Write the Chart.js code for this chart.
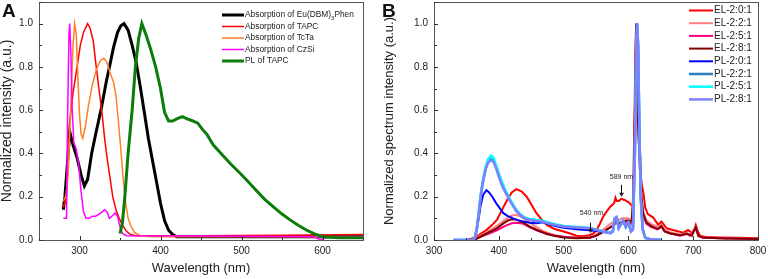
<!DOCTYPE html>
<html>
<head>
<meta charset="utf-8">
<script src="https://cdn.jsdelivr.net/npm/chart.js@4"></script>
<style>
	body { margin: 0; background: #fff; }
	#wrap { position: relative; width: 768px; height: 279px; }
	canvas { position: absolute; top: 0; }
	#chartA { left: 0; }
	#chartB { left: 380px; }
	.panel { position: absolute; top: 0; font: bold 19px "Liberation Sans", Arial, sans-serif; color: #111; }
</style>
</head>
<body>
<div id="wrap">
	<canvas id="chartA" width="380" height="279"></canvas>
	<canvas id="chartB" width="388" height="279"></canvas>
	<div class="panel" style="left:2px">A</div>
	<div class="panel" style="left:382px">B</div>
</div>
<script>
// ---- panel A: absorption / PL spectra ----
var wlEu = [280, 282, 285, 288, 292, 297, 302, 306, 310, 315, 320, 327, 333, 337, 342, 347, 351, 355, 360, 365, 370, 375, 380, 385, 390, 395, 400, 405, 410, 415, 420, 500, 650];
var absEu = [0.14, 0.2, 0.35, 0.5, 0.44, 0.38, 0.3, 0.25, 0.28, 0.4, 0.49, 0.61, 0.73, 0.8, 0.89, 0.96, 0.99, 1.0, 0.97, 0.9, 0.82, 0.71, 0.59, 0.47, 0.37, 0.27, 0.17, 0.09, 0.045, 0.025, 0.015, 0.015, 0.015];

var wlTapc = [280, 284, 286, 288, 292, 297, 301, 305, 310, 313, 317, 320, 324, 328, 331, 334, 338, 341, 345, 349, 353, 358, 363, 370, 450, 550, 650];
var absTapc = [0.15, 0.2, 0.4, 0.55, 0.68, 0.8, 0.9, 0.96, 1.0, 0.98, 0.92, 0.82, 0.7, 0.58, 0.47, 0.38, 0.28, 0.2, 0.14, 0.1, 0.07, 0.04, 0.025, 0.02, 0.02, 0.022, 0.025];

var wlTcta = [280, 283, 286, 289, 292, 294, 296, 298, 300, 302, 304, 307, 311, 316, 321, 326, 330, 334, 338, 342, 345, 348, 351, 354, 357, 360, 364, 368, 375, 390, 650];
var absTcta = [0.18, 0.2, 0.3, 0.6, 0.9, 1.0, 0.95, 0.75, 0.58, 0.49, 0.47, 0.52, 0.62, 0.72, 0.79, 0.83, 0.84, 0.82, 0.77, 0.73, 0.67, 0.55, 0.42, 0.28, 0.17, 0.1, 0.06, 0.035, 0.02, 0.015, 0.015];

var wlCzsi = [280, 284, 285, 287, 288, 289.5, 291, 293, 296, 299, 302, 305, 308, 312, 316, 320, 324, 328, 331, 334, 337, 340, 344, 347, 350, 353, 358, 450, 590, 598, 606, 650];
var absCzsi = [0.1, 0.1, 0.5, 0.95, 1.0, 0.85, 0.6, 0.45, 0.42, 0.35, 0.22, 0.13, 0.1, 0.1, 0.11, 0.11, 0.12, 0.13, 0.14, 0.13, 0.1, 0.11, 0.125, 0.11, 0.06, 0.03, 0.02, 0.018, 0.015, 0.0, 0.015, 0.015];

var wlPl = [350, 353, 356, 360, 365, 369, 373, 377, 382, 388, 394, 400, 405, 410, 415, 420, 427, 433, 440, 446, 452, 457, 465, 477, 487, 498, 508, 518, 528, 539, 550, 560, 570, 580, 590, 600, 620, 650];
var plTapc = [0.03, 0.08, 0.2, 0.4, 0.6, 0.8, 0.93, 1.0, 0.95, 0.88, 0.8, 0.7, 0.59, 0.55, 0.55, 0.56, 0.57, 0.56, 0.55, 0.54, 0.51, 0.49, 0.44, 0.39, 0.35, 0.31, 0.27, 0.23, 0.19, 0.154, 0.12, 0.093, 0.068, 0.046, 0.028, 0.015, 0.01, 0.01];

// ---- panel B: EL / PL spectra ----
var wlElA = [350, 360, 370, 381, 390, 397, 405, 412, 420, 427, 435, 443, 450, 458, 466, 474, 485, 500, 510, 520, 530, 540, 546, 551, 556, 561, 566, 572, 578, 580, 582, 585, 589, 594, 600, 605, 607, 609, 611, 612, 613, 615, 617, 619, 621, 623, 626, 630, 638, 646, 651, 655, 659, 670, 685, 692, 697, 701, 704, 707, 711, 720, 740, 770, 800];
var elA = [0, 0.008, 0.025, 0.046, 0.07, 0.093, 0.14, 0.18, 0.22, 0.235, 0.225, 0.2, 0.165, 0.124, 0.095, 0.07, 0.052, 0.039, 0.03, 0.02, 0.017, 0.022, 0.03, 0.046, 0.075, 0.108, 0.13, 0.154, 0.17, 0.195, 0.18, 0.18, 0.19, 0.185, 0.175, 0.16, 0.17, 0.5, 0.9, 1.0, 0.85, 0.6, 0.47, 0.3, 0.25, 0.22, 0.15, 0.12, 0.105, 0.07, 0.085, 0.07, 0.054, 0.045, 0.034, 0.046, 0.034, 0.04, 0.069, 0.04, 0.018, 0.014, 0.012, 0.01, 0.008];

var wlElB = [350, 360, 381, 397, 410, 418, 425, 433, 443, 455, 468, 480, 500, 520, 540, 550, 560, 570, 578, 581, 584, 590, 596, 600, 605, 608, 610, 612, 613, 615, 617, 620, 623, 628, 635, 645, 651, 656, 665, 680, 690, 695, 704, 708, 715, 740, 800];
var elB = [0, 0.003, 0.035, 0.065, 0.095, 0.11, 0.116, 0.11, 0.09, 0.065, 0.042, 0.028, 0.015, 0.01, 0.012, 0.025, 0.045, 0.07, 0.085, 0.105, 0.09, 0.1, 0.1, 0.1, 0.09, 0.25, 0.6, 0.95, 0.8, 0.6, 0.4, 0.2, 0.13, 0.09, 0.075, 0.06, 0.07, 0.045, 0.035, 0.025, 0.032, 0.025, 0.06, 0.02, 0.012, 0.008, 0.005];

var wlElC = [350, 360, 381, 397, 410, 420, 428, 438, 448, 460, 474, 487, 500, 520, 540, 550, 560, 570, 578, 581, 584, 590, 596, 600, 605, 608, 610, 612, 613, 615, 617, 620, 623, 628, 635, 645, 651, 656, 665, 680, 690, 695, 704, 708, 715, 800];
var elC = [0, 0.002, 0.025, 0.045, 0.065, 0.077, 0.08, 0.075, 0.058, 0.042, 0.03, 0.02, 0.015, 0.01, 0.01, 0.018, 0.035, 0.055, 0.068, 0.085, 0.07, 0.08, 0.082, 0.08, 0.075, 0.2, 0.55, 0.9, 0.75, 0.55, 0.38, 0.18, 0.11, 0.075, 0.06, 0.05, 0.06, 0.04, 0.03, 0.02, 0.028, 0.02, 0.055, 0.018, 0.01, 0.004];

var wlElD = [350, 365, 381, 397, 407, 414, 420, 428, 438, 448, 460, 474, 487, 500, 520, 540, 550, 560, 570, 578, 581, 584, 590, 596, 600, 605, 608, 610, 612, 613, 614.5, 616, 618, 620, 623, 628, 635, 645, 651, 656, 665, 680, 690, 694, 698, 704, 708, 715, 740, 800];
var elD = [0, 0.005, 0.03, 0.054, 0.077, 0.09, 0.096, 0.093, 0.08, 0.062, 0.045, 0.028, 0.018, 0.012, 0.008, 0.01, 0.02, 0.035, 0.055, 0.07, 0.09, 0.075, 0.085, 0.09, 0.09, 0.085, 0.2, 0.6, 1.0, 0.7, 0.6, 0.45, 0.4, 0.2, 0.12, 0.08, 0.065, 0.05, 0.065, 0.04, 0.03, 0.022, 0.03, 0.025, 0.02, 0.06, 0.02, 0.012, 0.008, 0.005];

var wlPlA = [360, 363, 366, 369, 372, 376, 381, 385, 390, 396, 402, 407, 414, 422, 430, 438, 448, 458, 468, 475, 487, 500, 520, 540, 560, 572, 576, 579, 582, 585, 588, 592, 596, 600, 604, 607, 610, 612, 613.5, 615, 617, 619, 622, 626, 635, 650];
var plA = [0, 0.01, 0.05, 0.1, 0.16, 0.21, 0.23, 0.22, 0.2, 0.17, 0.145, 0.124, 0.11, 0.1, 0.092, 0.085, 0.08, 0.077, 0.082, 0.075, 0.065, 0.056, 0.05, 0.045, 0.038, 0.032, 0.04, 0.1, 0.105, 0.055, 0.07, 0.09, 0.06, 0.08, 0.04, 0.05, 0.4, 0.85, 1.0, 0.9, 0.5, 0.2, 0.05, 0.01, 0.003, 0];

var wlPlB = [330, 360, 363, 366, 369, 372, 375, 379, 383, 388, 392, 396, 401, 406, 411, 417, 422, 427, 433, 440, 448, 458, 468, 475, 487, 500, 520, 540, 560, 572, 576, 579, 582, 585, 588, 592, 596, 600, 604, 607, 610, 612, 613.5, 615, 617, 619, 622, 626, 635, 650];
var plB = [0, 0, 0.01, 0.05, 0.12, 0.2, 0.26, 0.32, 0.36, 0.375, 0.365, 0.335, 0.29, 0.25, 0.22, 0.185, 0.16, 0.135, 0.116, 0.1, 0.093, 0.088, 0.085, 0.078, 0.07, 0.062, 0.058, 0.054, 0.04, 0.032, 0.04, 0.1, 0.105, 0.055, 0.07, 0.09, 0.06, 0.08, 0.04, 0.05, 0.4, 0.85, 1.0, 0.9, 0.5, 0.2, 0.05, 0.01, 0.003, 0];
var plC = [0, 0, 0.01, 0.05, 0.13, 0.21, 0.27, 0.33, 0.37, 0.39, 0.38, 0.345, 0.3, 0.26, 0.225, 0.19, 0.165, 0.14, 0.12, 0.104, 0.097, 0.092, 0.089, 0.082, 0.073, 0.065, 0.06, 0.056, 0.042, 0.033, 0.04, 0.1, 0.105, 0.055, 0.07, 0.09, 0.06, 0.08, 0.04, 0.05, 0.4, 0.85, 1.0, 0.9, 0.5, 0.2, 0.05, 0.01, 0.003, 0];
var plD = [0, 0, 0.01, 0.05, 0.12, 0.2, 0.26, 0.32, 0.355, 0.37, 0.36, 0.33, 0.285, 0.245, 0.215, 0.182, 0.158, 0.133, 0.115, 0.1, 0.093, 0.088, 0.085, 0.078, 0.07, 0.062, 0.058, 0.054, 0.04, 0.032, 0.04, 0.1, 0.105, 0.055, 0.07, 0.09, 0.06, 0.08, 0.04, 0.05, 0.4, 0.85, 1.0, 0.9, 0.5, 0.2, 0.05, 0.01, 0.003, 0];

var fontFamily = '"Liberation Sans", Arial, sans-serif';
var textColor = '#222';

function toPoints(xs, ys) {
	return xs.map(function(x, i) { return {x: x, y: ys[i]}; });
}

function line(label, xs, ys, color, width) {
	return {
		label: label,
		data: toPoints(xs, ys),
		borderColor: color,
		backgroundColor: color,
		borderWidth: width,
		showLine: true,
		pointRadius: 0,
		tension: 0,
	};
}

// boxed plot area like the origin graph
const chartAreaBorder = {
	id: 'chartAreaBorder',
	afterDatasetsDraw(chart, args, options) {
		const {ctx, chartArea: {left, top, width, height}} = chart;
		ctx.save();
		ctx.strokeStyle = options.borderColor;
		ctx.lineWidth = options.borderWidth;
		ctx.strokeRect(left + 0.5, top + 0.5, width, height);
		ctx.restore();
	}
};

// tick marks pointing into the plot
const innerTicks = {
	id: 'innerTicks',
	afterDatasetsDraw(chart, args, options) {
		const {ctx, chartArea: {left, bottom}, scales: {x, y}} = chart;
		ctx.save();
		ctx.strokeStyle = options.color;
		ctx.lineWidth = 1;
		ctx.beginPath();
		for (var v = x.min; v <= x.max + 1e-6; v += options.xMinor) {
			var px = Math.round(x.getPixelForValue(v)) + 0.5;
			var len = (Math.round(v) % options.xMajor === 0) ? 4 : 2;
			ctx.moveTo(px, bottom);
			ctx.lineTo(px, bottom - len);
		}
		for (var k = 0; k <= Math.round(y.max * 10); k++) {
			var py = Math.round(y.getPixelForValue(k / 10)) + 0.5;
			var len2 = (k % 2 === 0) ? 4 : 3;
			ctx.moveTo(left, py);
			ctx.lineTo(left + len2, py);
		}
		ctx.stroke();
		ctx.restore();
	}
};

// legend drawn inside the plot, lines left of labels; "_3" gives a subscript
const insideLegend = {
	id: 'insideLegend',
	afterDraw(chart, args, options) {
		const ctx = chart.ctx;
		ctx.save();
		ctx.textBaseline = 'middle';
		ctx.textAlign = 'left';
		chart.data.datasets.forEach(function(ds, i) {
			var yy = options.y + i * options.rowHeight;
			ctx.strokeStyle = ds.borderColor;
			ctx.lineWidth = ds.borderWidth;
			ctx.beginPath();
			ctx.moveTo(options.x1, yy);
			ctx.lineTo(options.x2, yy);
			ctx.stroke();
			ctx.fillStyle = textColor;
			var tx = options.x2 + 1;
			ds.label.split(/_(\d)/).forEach(function(part, j) {
				if (j % 2 === 1) {
					ctx.font = (options.size * 0.7) + 'px ' + fontFamily;
					ctx.fillText(part, tx, yy + 3);
				} else {
					ctx.font = options.size + 'px ' + fontFamily;
					ctx.fillText(part, tx, yy);
				}
				tx += ctx.measureText(part).width;
			});
		});
		ctx.restore();
	}
};

// "589 nm" / "540 nm" arrows in panel B
const arrowNotes = {
	id: 'arrowNotes',
	afterDraw(chart, args, options) {
		const {ctx, scales: {x, y}} = chart;
		ctx.save();
		ctx.font = '7px ' + fontFamily;
		ctx.textAlign = 'center';
		ctx.textBaseline = 'middle';
		ctx.fillStyle = textColor;
		ctx.strokeStyle = '#111';
		ctx.lineWidth = 1;
		options.notes.forEach(function(n) {
			var px = Math.round(x.getPixelForValue(n.at)) + 0.5;
			var yText = y.getPixelForValue(n.textY);
			var y0 = y.getPixelForValue(n.from), y1 = y.getPixelForValue(n.to);
			ctx.fillText(n.at + ' nm', px + n.dx, yText);
			ctx.beginPath();
			ctx.moveTo(px, y0);
			ctx.lineTo(px, y1 - 3);
			ctx.stroke();
			ctx.beginPath();
			ctx.moveTo(px - 2.5, y1 - 4);
			ctx.lineTo(px + 2.5, y1 - 4);
			ctx.lineTo(px, y1);
			ctx.closePath();
			ctx.fill();
		});
		ctx.restore();
	}
};

function makeOptions(cfg) {
	return {
		responsive: false,
		animation: false,
		layout: {padding: {top: 2, right: cfg.padRight, left: 0, bottom: 0}},
		scales: {
			x: {
				type: 'linear',
				min: cfg.xMin, max: cfg.xMax,
				afterFit: function(scale) {
					scale.height = 39;
					scale.paddingLeft = 0;
					scale.paddingRight = 0;
				},
				grid: {display: false, drawTicks: false},
				border: {display: false},
				ticks: {
					stepSize: 50,
					autoSkip: false,
					maxRotation: 0,
					padding: 5,
					color: textColor,
					font: {family: fontFamily, size: 10},
					callback: function(v) { return (Math.round(v) % 100 === 0) ? v : ''; },
				},
				title: {
					display: true,
					text: 'Wavelength (nm)',
					color: textColor,
					font: {family: fontFamily, size: 13, lineHeight: 1},
					padding: {top: 0, bottom: 4},
				},
			},
			y: {
				min: 0, max: 1.1,
				afterFit: function(scale) {
					scale.width = cfg.yWidth;
					scale.paddingTop = 0;
					scale.paddingBottom = 0;
				},
				grid: {display: false, drawTicks: false},
				border: {display: false},
				ticks: {
					stepSize: 0.1,
					autoSkip: false,
					padding: 6,
					color: textColor,
					font: {family: fontFamily, size: 10},
					callback: function(v) {
						var k = Math.round(v * 10);
						return (k % 2 === 0 && k <= 10) ? (k / 10).toFixed(1) : '';
					},
				},
				title: {
					display: true,
					text: cfg.yTitle,
					color: textColor,
					font: {family: fontFamily, size: cfg.yTitleSize, lineHeight: 1},
					padding: {top: cfg.yTitlePad, bottom: 0},
				},
			},
		},
		plugins: {
			legend: {display: false},
			tooltip: {enabled: false},
			chartAreaBorder: {borderColor: '#555', borderWidth: 1},
			innerTicks: {color: '#333', xMinor: 50, xMajor: 100},
			insideLegend: cfg.legend,
			arrowNotes: cfg.notes || {notes: []},
		},
	};
}

function withOrder(datasets) {
	// later datasets painted on top
	datasets.forEach(function(ds, i) { ds.order = datasets.length - i; });
	return datasets;
}

var dataA = withOrder([
	line('Absorption of Eu(DBM)_3Phen', wlEu, absEu, '#000000', 3),
	line('Absorption of TAPC', wlTapc, absTapc, '#ff0000', 1.5),
	line('Absorption of TcTa', wlTcta, absTcta, '#ff7f27', 1.5),
	line('Absorption of CzSi', wlCzsi, absCzsi, '#ff00ff', 1.5),
	line('PL of TAPC', wlPl, plTapc, '#0a7d0a', 3),
]);

var dataB = withOrder([
	line('EL-2:0:1', wlElA, elA, '#ff0000', 2),
	line('EL-2:2:1', wlElB, elB, '#ff8080', 2),
	line('EL-2:5:1', wlElC, elC, '#ff0080', 2),
	line('EL-2:8:1', wlElD, elD, '#800000', 2),
	line('PL-2:0:1', wlPlA, plA, '#0000ff', 2),
	line('PL-2:2:1', wlPlB, plB, '#2a7fc0', 2.5),
	line('PL-2:5:1', wlPlB, plC, '#00ffff', 2.5),
	line('PL-2:8:1', wlPlB, plD, '#7f7fff', 2.5),
]);

var plugins = [chartAreaBorder, innerTicks, insideLegend, arrowNotes];

new Chart(document.getElementById('chartA'), {
	type: 'scatter',
	data: {datasets: dataA},
	options: makeOptions({
		xMin: 250, xMax: 650, padRight: 17, yWidth: 39,
		yTitle: 'Normalized intensity (a.u.)', yTitleSize: 14, yTitlePad: 0,
		legend: {x1: 222, x2: 244, y: 15, rowHeight: 11.5, size: 8.4},
	}),
	plugins: plugins,
});

new Chart(document.getElementById('chartB'), {
	type: 'scatter',
	data: {datasets: dataB},
	options: makeOptions({
		xMin: 300, xMax: 800, padRight: 10, yWidth: 54,
		yTitle: 'Normalized spectrum intensity (a.u.)', yTitleSize: 13, yTitlePad: 2.5,
		legend: {x1: 309, x2: 333, y: 10.5, rowHeight: 12.7, size: 10},
		notes: {notes: [
			{at: 589, textY: 0.292, from: 0.255, to: 0.2, dx: 0},
			{at: 540, textY: 0.125, from: 0.08, to: 0.032, dx: 1},
		]},
	}),
	plugins: plugins,
});
</script>
</body>
</html>
